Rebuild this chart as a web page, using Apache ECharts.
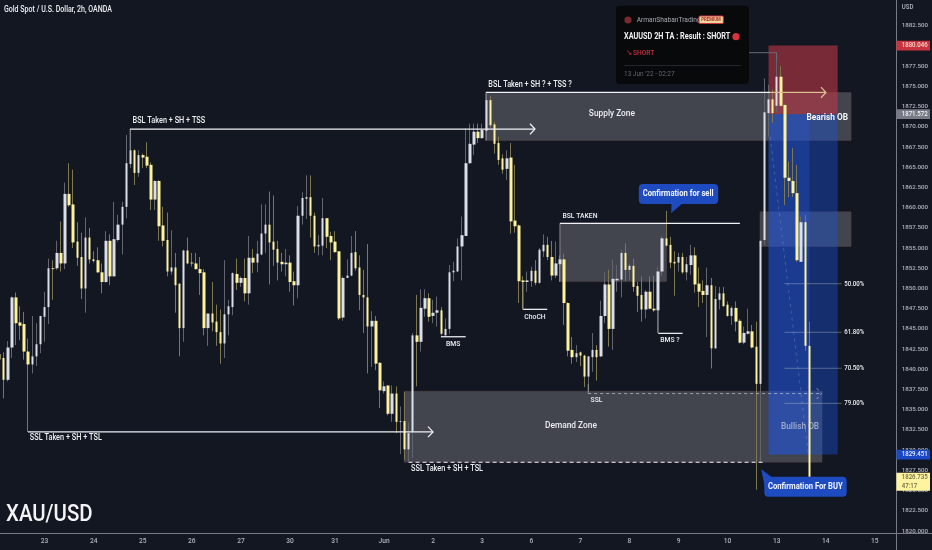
<!DOCTYPE html>
<html><head><meta charset="utf-8"><style>html,body{margin:0;padding:0;background:#131722}#c{width:932px;height:550px}</style>
<script src="https://cdn.jsdelivr.net/npm/echarts@6/dist/echarts.min.js"></script></head><body><div id="c"></div>
<script>
// Candles: [open, close, low, high]
const candlesMay23=[[1841.9,1841.2,1840.7,1842.6],[1841.4,1838.7,1836.4,1842.1],[1838.7,1842.7,1838.5,1843.5],[1842.7,1848.9,1841.4,1849],[1848.9,1845.7,1843,1849.5],[1845.8,1845.4,1843.6,1847.8],[1845.6,1842.2,1841.2,1847.1],[1842.2,1840.6,1832.25,1843.8],[1840.6,1841.6,1839.5,1846.6],[1841.6,1843.1,1840.4,1845.7],[1843.1,1846.6,1842,1846.6],[1846.5,1847.7,1843.4,1849.6],[1847.7,1852.5,1845.6,1853.7],[1852.5,1852.4,1848.6,1853.5],[1852.5,1854.4,1852.3,1855.9],[1854.4,1853.1,1852.1,1858.3],[1853.1,1861.7,1852.4,1863.1],[1861.7,1860.3,1860.1,1865.5],[1860.4,1855.7,1855,1864.7],[1855.8,1853.8,1852.8,1858.2],[1853.9,1850,1848.7,1856.9],[1850,1856.3,1847,1858.8],[1856.3,1853.6,1853.1,1857.5],[1853.6,1853.4,1853.2,1854.6],[1853.5,1852,1851.9,1855.1],[1852,1850.8,1849.4,1853.1],[1850.8,1855.9,1850.7,1857.1],[1855.9,1851.5,1850.4,1856.7],[1851.5,1856.1,1851.5,1860.7],[1856,1857.9,1855.8,1859.1]];
const candlesMay25=[[1857.9,1860.1,1854.2,1860.7],[1860.1,1865.5,1858.7,1869],[1865.4,1867.1,1864.9,1869.8],[1867.1,1864.3,1862.8,1867.2],[1864.3,1866.5,1863.8,1867.1],[1866.5,1866.2,1864.9,1866.7],[1866.3,1865.2,1864.9,1868.1],[1865.3,1861,1859.7,1865.6],[1861,1863.3,1859.7,1863.4],[1863.3,1857.7,1855.9,1863.4],[1857.8,1855.9,1855.2,1860.1],[1856,1852.1,1851.5,1859.4],[1852.1,1852.6,1851.7,1857.2],[1852.6,1850.4,1847,1854.4],[1850.6,1845.1,1841.6,1850.6],[1845.1,1854.7,1843.4,1854.8],[1854.7,1853.1,1853,1856.3],[1853.2,1853.1,1852.7,1854.4],[1853.1,1852.4,1852.3,1854.4],[1852.4,1851.9,1849.2,1853.9],[1852,1845.1,1844.2,1852.4],[1845.1,1846.9,1842.9,1846.9],[1846.9,1845.8,1844.7,1850.8],[1845.9,1844.6,1842.9,1848],[1844.6,1843.2,1840.7,1847.4],[1843.2,1846.8,1841.4,1853.5],[1846.8,1847.8,1844.2,1848.6]];
const candlesMay27=[[1847.7,1851.9,1846.7,1852],[1851.8,1850.7,1849.8,1853.7],[1850.7,1851.3,1850.2,1851.5],[1851.3,1849.4,1848.4,1853.7],[1849.4,1853.8,1848,1856.5],[1853.8,1853.2,1851.9,1854.9],[1853.2,1854.3,1852,1855.9],[1854.2,1856.8,1854.1,1860.4],[1856.8,1857.9,1854.4,1860.4],[1857.9,1855.7,1850.5,1862],[1855.8,1854.8,1852.8,1861.5],[1854.9,1853.2,1851,1855.9],[1853.3,1853,1852.1,1854.4],[1853,1853.2,1851.5,1854.9],[1853.2,1850.8,1849.6,1854.1],[1850.9,1850.4,1847.9,1852.1],[1850.4,1859,1848.8,1860.2],[1859,1861.2,1857.9,1861.9],[1861.1,1861.3,1858.6,1864],[1861.3,1859,1856.3,1864],[1859,1855.2,1854.4,1859.4],[1855.2,1855.4,1854.1,1856.6],[1855.3,1858.7,1854.1,1861.2],[1858.7,1856.4,1855,1858.7],[1856.5,1855.7,1853.5,1857],[1855.8,1854.5,1854.4,1857.1],[1854.6,1846.3,1846.1,1854.6],[1846.4,1851.3,1846,1851.5],[1851.3,1851.6,1851.3,1853.6],[1851.6,1854.4,1851.5,1856.5],[1854.5,1852.5,1852.2,1857.1],[1852.6,1849.2,1847.3,1854.1],[1849.2,1848.9,1844.5,1852.3],[1848.9,1845.3,1839.5,1855.5],[1845.3,1846,1840.3,1847.2],[1846,1840.7,1839.9,1846.6],[1840.8,1837.4,1835.2,1840.9],[1837.3,1837.9,1837,1838.5],[1838,1834.5,1834.3,1838],[1834.5,1837,1833.5,1838],[1837,1833.5,1832.1,1837.9],[1833.5,1833.6,1829.5,1835.4],[1833.6,1830.1,1828.8,1837.2],[1830.1,1832.1,1828.6,1833.4],[1832.3,1844.2,1829,1844.5]];
const candlesJun1=[[1844.2,1843.4,1837.9,1849.2],[1843.4,1847.6,1842.2,1849.9],[1847.5,1848.8,1846.5,1849.9],[1848.8,1846.5,1845.9,1849.4],[1846.6,1847,1845.7,1848.6],[1847,1847.3,1845.3,1849],[1847.3,1844.4,1844.2,1847.7],[1844.2,1845,1844.2,1846.3],[1845,1852,1844.4,1852.9],[1852,1852.2,1850.9,1853.3],[1852.1,1855.2,1852.1,1856.2],[1855.2,1856.6,1851,1858.9],[1856.5,1865.5,1856.5,1869.8],[1865.5,1867.9,1865.4,1870.4],[1867.8,1869.4,1866.5,1870.4],[1869.4,1868.6,1868,1870.4],[1868.6,1869.6,1868.5,1870.4],[1869.5,1873.3,1868.3,1874.1],[1873.3,1870.2,1869.9,1873.8],[1870.3,1867.9,1866.7,1870.6],[1868,1865.9,1865.3,1868.8],[1866.1,1864.7,1864.2,1866.6],[1864.8,1866.1,1863.4,1867.1],[1866.2,1858.3,1856.8,1868],[1858.4,1857.7,1856.9,1865.3],[1857.8,1850.9,1848.2,1857.9],[1851,1850.8,1847.4,1851.5],[1850.8,1851,1849.6,1852.1],[1850.9,1852.2,1850.2,1852.7],[1852.2,1850.7,1850.4,1853.5],[1850.7,1854.8,1850.6,1855],[1854.6,1855.4,1853.9,1856.7],[1855.4,1853.9,1853.5,1856.4],[1853.9,1851.6,1851,1855.9],[1851.6,1853.1,1851.3,1855.8],[1853,1853.6,1850.8,1854.1],[1853.6,1848.2,1845.5,1854.3]];
const candlesJun7=[[1848.2,1842.3,1841.6,1848.3],[1842.4,1841.5,1840.7,1844],[1841.5,1842,1840.9,1843],[1842.1,1841.7,1840.4,1842.2],[1841.7,1839.1,1837.8,1841.8],[1839.1,1841.6,1837.2,1841.6],[1841.5,1842.4,1839.7,1844.5],[1842.4,1841.5,1838.6,1843],[1841.6,1846.6,1841.5,1848.5],[1846.6,1850.5,1845.7,1852],[1850.5,1845,1842.8,1852.3],[1845,1851.2,1842.4,1853.6],[1851,1851.2,1849.6,1852.9],[1851.1,1854.4,1848.9,1854.8],[1854.4,1852.3,1850.9,1855.6],[1852.3,1852.8,1851,1853.1],[1852.8,1850.2,1849.6,1853.7],[1850.3,1849.1,1847.1,1850.8],[1849.2,1847.4,1845.9,1851.5],[1847.4,1849.6,1846.3,1849.8],[1849.6,1847.5,1847.4,1851.5],[1847.5,1847.3,1847.1,1851.6],[1847.3,1852.1,1844.5,1852.7],[1852.1,1856.2,1851.5,1856.5],[1856.2,1855.3,1855.2,1859.6],[1855.4,1853.2,1852.5,1856.4],[1853.3,1853.1,1849.1,1854.6],[1853.2,1853.9,1852.1,1854.4],[1853.9,1852,1851.8,1854.4],[1852,1853,1851,1853.9]];
const candlesJun9=[[1852.9,1854.1,1851.7,1855.4],[1854.1,1850.5,1849.5,1855.1],[1850.6,1849.6,1847.7,1852.6],[1849.7,1849.2,1848.2,1851],[1849.2,1850.4,1844,1852.6],[1850.4,1842.6,1840.1,1851.3],[1842.6,1848.7,1842.5,1850.3],[1848.6,1849.4,1847.4,1850.2],[1849.4,1847.8,1847.8,1850.2],[1848,1846.6,1846.5,1848.4],[1846.6,1847.6,1845.5,1847.8],[1847.6,1845.9,1844.7,1848.4],[1846,1843.3,1843.2,1846.2],[1843.3,1844.5,1843.1,1845.3],[1844.4,1844.7,1844.3,1847.5],[1844.7,1842.7,1842.6,1845.5],[1842.8,1838.2,1825.1,1845.9],[1838.2,1855.9,1828.5,1855.9],[1856,1871.8,1855.4,1876],[1871.7,1873.4,1868.7,1875.2],[1873.4,1871.7,1870.5,1874.6],[1872.6,1876.2,1871.8,1879.2],[1876.2,1872.6,1872.5,1877.5],[1872.7,1863.7,1860.3,1872.8],[1863.7,1863.3,1861.3,1865.7],[1863.3,1861.8,1861.3,1867.4],[1861.8,1853.5,1853.3,1865.3],[1853.3,1858.2,1853.3,1858.9],[1858.2,1842.9,1842.3,1859.1],[1842.9,1826.7,1826.7,1845.9]];
const candles=[...candlesMay23,...candlesMay25,...candlesMay27,...candlesJun1,...candlesJun7,...candlesJun9];

// Axes
const barSlots=220;
const dayTicks=[[11,'23'],[23,'24'],[35,'25'],[47,'26'],[59,'27'],[71,'30'],[82,'31'],[94,'Jun'],[106,'2'],[118,'3'],[130,'6'],[142,'7'],[154,'8'],[166,'9'],[178,'10'],[190,'13'],[202,'14'],[214,'15']];
const priceTicks=[1820,1822.5,1825,1827.5,1830,1832.5,1835,1837.5,1840,1842.5,1845,1847.5,1850,1852.5,1855,1857.5,1860,1862.5,1865,1867.5,1870,1872.5,1875,1877.5,1880,1882.5];
const priceMin=1819.75, priceMax=1885.69;

// Zones: [startBar, endBar, topPrice, bottomPrice]
const zoneDemand=[98.9,201.1,1837.3,1828.5];
const zoneSupply=[118.9,208.2,1874.25,1868.3];
const zoneMiddle=[185.9,208.2,1859.5,1855.2];
const zoneBslTaken=[137,163.1,1858.1,1850.85];
const zoneStop=[188,204.9,1880.05,1871.57];
const zoneTarget=[188,204.9,1871.57,1829.45];
const zoneTargetReached=[188,198,1871.57,1829.45];

// Lines: [bar0, price0, bar1, price1]
const lineBsl1=[31.9,1869.73,130.9,1869.73];
const stemBsl1=[31.9,1869.73,31.9,1867.13];
const lineBsl2=[118.9,1874.25,188.5,1874.25];
const lineBsl2Over=[188.5,1874.25,202.05,1874.25];
const stemBsl2=[118.9,1874.25,118.9,1868.3];
const lineSsl1=[6.94,1832.26,105.97,1832.26];
const lineSslDash=[100,1828.5,186.9,1828.5];
const lineBslTaken=[137,1858.06,181,1858.06];
const stemBslTaken=[137,1858.06,137,1850.85];
const lineSslThin=[143.9,1837,201,1837];
const stemSslThin=[143.9,1837,143.9,1838.2];
const lineBms=[107.9,1844.03,113.96,1844.03];
const lineChoch=[128,1847.42,133.9,1847.42];
const stemChoch=[128,1847.42,128,1850.8];
const lineBms2=[161.05,1844.45,167,1844.45];
const stemBms2=[161.05,1844.45,161.05,1847.3];
const fibLevels=[[1850.59,'50.00%'],[1844.58,'61.80%'],[1840.13,'70.50%'],[1835.79,'79.00%']];
const fibBars=[191.9,205.9,206.5];
const linePath=[188.4,1868.74,197.7,1829.65];
const lineCard=[183.2,1879.17,190,1879.17];
const stemCard=[190,1879.17,190,1878.27];

// Text notes: [bar, price, text]
const notesLong=[[32.5,1870.72,'BSL Taken + SH + TSS'],[119.5,1875.14,'BSL Taken + SH ? + TSS ?'],[7.4,1831.5,'SSL Taken + SH + TSL'],[100.6,1827.67,'SSL Taken + SH + TSL']];
const notesShort=[[137.6,1858.97,'BSL TAKEN'],[144.5,1836.2,'SSL']];
const notesZones=[[149.7,1871.59,'Supply Zone'],[139.7,1833.02,'Demand Zone']];
const notesMarks=[[110.9,1843.13,'BMS'],[130.9,1846.5,'ChoCH'],[163.9,1843.6,'BMS ?']];
const noteBearish=[197.3,1871.2,'Bearish OB'];
const noteBullish=[195.7,1832.9,'Bullish OB'];
// Callouts: body [bar0,bar1,top,bottom], tail points, text
const calloutSell={body:[156.3,175.7,1862.93,1860.45],tail:[[164.3,1860.6],[167.1,1860.6],[164.2,1859.3]],note:[165.9,1861.7,'Confirmation for sell']};
const calloutBuy={body:[186.97,207.1,1826.71,1824.23],tail:[[187.1,1825.5],[189,1826.6],[186.2,1827.63]],note:[197,1825.5,'Confirmation For BUY']};
// Price tags: [price, text, second line]
const tagStop=[1880.05,'1880.046'];
const tagEntry=[1871.57,'1871.572'];
const tagTarget=[1829.45,'1829.451'];
const tagLast=[1826.1,'1826.735','47:17'];

const FONT='Roboto,"Noto Sans",sans-serif';
const NARROW=0.85;
const C={bg:'#131722',white:'#dcdee8',yellow:'#fff29c',wickW:'#62646e',wickY:'#7d7850',axis:'#787b86',tick:'#b2b5be',text:'#eceef2',line:'#f0f2f6',blue:'#1e4cc0'};

const rows=a=>a.map((_,i)=>[i]);
function rect(api,z,style,r){const a=api.coord([z[0],z[2]]),b=api.coord([z[1],z[3]]);
  return {type:'rect',shape:{x:a[0],y:a[1],width:b[0]-a[0],height:b[1]-a[1],r:r||0},style};}
function poly(api,l,style){return {type:'polyline',shape:{points:[api.coord([l[0],l[1]]),api.coord([l[2],l[3]])]},style:Object.assign({fill:null},style)};}
function chevron(api,l,style){const t=api.coord([l[2],l[3]]);
  return {type:'polyline',shape:{points:[[t[0]-5,t[1]-5.3],t,[t[0]-5,t[1]+5.3]]},style:Object.assign({fill:null},style)};}
function txt(x,y,text,fill,align,size,weight,extra){
  return Object.assign({type:'text',x,y,scaleX:NARROW,scaleY:1,silent:true,style:{x:0,y:0,text,fill,align:align||'left',verticalAlign:'middle',font:(weight||500)+' '+size+'px '+FONT}},extra||{});}
function label(api,n,fill,align,size,weight){const p=api.coord([n[0],n[1]]);return txt(p[0],p[1],n[2],fill,align,size||8,weight);}
function tailShape(api,c,fill){return {type:'polygon',shape:{points:c.tail.map(t=>api.coord(t))},style:{fill}};}

const grey={fill:'rgba(255,255,255,0.2)',stroke:'rgba(110,70,70,0.55)',lineWidth:0.6};
const zoneList=[[zoneDemand,grey],[zoneSupply,grey],[zoneMiddle,grey],[zoneBslTaken,grey],
 [zoneStop,{fill:'rgba(190,55,70,0.6)'}],[zoneTarget,{fill:'rgba(26,83,224,0.4)'}],[zoneTargetReached,{fill:'rgba(40,90,225,0.3)'}]];
const solid={stroke:C.line,lineWidth:1.25};
const thinGrey={stroke:'rgba(200,203,212,0.65)',lineWidth:0.8};
const lineList=[[lineBsl1,solid,1],[stemBsl1,thinGrey],[lineBsl2,solid],[lineBsl2Over,{stroke:'#dcbf8e',lineWidth:1.25},1],[stemBsl2,thinGrey],[lineSsl1,solid,1],
 [lineSslDash,{stroke:C.line,lineWidth:1.2,lineDash:[4,3]}],[lineBslTaken,solid],[stemBslTaken,thinGrey],
 [lineSslThin,{stroke:'rgba(225,227,235,0.75)',lineWidth:0.8,lineDash:[3,3]},1],[stemSslThin,thinGrey],
 [lineBms,solid],[lineChoch,solid],[stemChoch,thinGrey],[lineBms2,solid],[stemBms2,thinGrey],
 [linePath,{stroke:'rgba(200,205,220,0.3)',lineWidth:0.8,lineDash:[3,4]}],[lineCard,{stroke:'#666a76',lineWidth:1}],[stemCard,{stroke:'#666a76',lineWidth:1}]];
const tagList=[[tagStop,'#c7333f','#f3d9c8'],[tagEntry,'#787b86','#f2f2f4'],[tagTarget,'#1a48c4','#e8ecfa'],[tagLast,'#fff39f','#6c6a40']];

const overlay=(data,z,renderItem)=>({type:'custom',xAxisIndex:1,yAxisIndex:0,silent:true,z,animation:false,clip:false,data:rows(data),renderItem});
const gtxt=(x,y,text,fill,size,weight,align,z)=>Object.assign(txt(x,y,text,fill,align,size,weight),{z:z||21});

const option={
 backgroundColor:C.bg,animation:false,
 grid:{left:-2.445,top:0,width:899.8,height:533,outerBoundsMode:'none',containLabel:false},
 xAxis:[{type:'category',data:Array.from({length:barSlots},(_,i)=>{const d=dayTicks.find(t=>t[0]===i);return d?d[1]:'';}),
   boundaryGap:true,axisLine:{show:false},axisTick:{show:false},splitLine:{show:false},
   axisLabel:{interval:0,hideOverlap:false,color:C.tick,fontSize:6.6,fontWeight:500,fontFamily:FONT,margin:5}},
  {type:'value',min:-0.5,max:barSlots-0.5,show:false}],
 yAxis:{type:'value',position:'right',min:priceMin,max:priceMax,axisLine:{show:false},axisTick:{show:false},splitLine:{show:false},
   axisLabel:{customValues:priceTicks,color:C.tick,fontSize:6.2,fontWeight:500,fontFamily:FONT,margin:4.3,formatter:v=>v.toFixed(3)}},
 series:[
  overlay(zoneList,1,(p,api)=>{const z=zoneList[p.dataIndex];return rect(api,z[0],z[1]);}),
  {type:'candlestick',name:'wicks',z:3,barWidth:1,data:candles,xAxisIndex:0,yAxisIndex:0,silent:true,animation:false,
    itemStyle:{color:'transparent',color0:'transparent',borderColor:C.wickW,borderColor0:C.wickY,borderWidth:1}},
  {type:'candlestick',name:'bodies',z:4,barWidth:3,data:candles.map(c=>[c[0],c[1],Math.min(c[0],c[1]),Math.max(c[0],c[1])]),xAxisIndex:0,yAxisIndex:0,silent:true,animation:false,
    itemStyle:{color:C.white,color0:C.yellow,borderColor:C.white,borderColor0:C.yellow,borderWidth:0}},
  overlay(lineList,5,(p,api)=>{const l=lineList[p.dataIndex];const ch=[poly(api,l[0],l[1])];if(l[2])ch.push(chevron(api,l[0],l[1]));return {type:'group',children:ch};}),
  overlay(fibLevels,5,(p,api)=>{const f=fibLevels[p.dataIndex];return {type:'group',children:[
     poly(api,[fibBars[0],f[0],fibBars[1],f[0]],{stroke:'rgba(190,195,205,0.5)',lineWidth:0.8}),
     label(api,[fibBars[2],f[0],f[1]],C.text,'left',7.2)]};}),
  overlay([calloutSell,calloutBuy],6,(p,api)=>{const c=[calloutSell,calloutBuy][p.dataIndex];return {type:'group',children:[
     rect(api,c.body,{fill:C.blue},4),tailShape(api,c,C.blue),label(api,c.note,'#f2f5ff','center',9,700)]};}),
  overlay(notesLong,7,(p,api)=>label(api,notesLong[p.dataIndex],C.text,'left',8.6)),
  overlay(notesShort,7,(p,api)=>label(api,notesShort[p.dataIndex],C.text,'left',8)),
  overlay(notesZones,7,(p,api)=>label(api,notesZones[p.dataIndex],C.text,'center',9.8)),
  overlay(notesMarks,7,(p,api)=>label(api,notesMarks[p.dataIndex],C.text,'center',8)),
  overlay([noteBearish],7,(p,api)=>label(api,noteBearish,'#f8f8fa','left',9.8,700)),
  overlay([noteBullish],7,(p,api)=>label(api,noteBullish,'rgba(225,228,235,0.62)','center',9.8)),
  overlay(tagList,9,(p,api)=>{const t=tagList[p.dataIndex],y=api.coord([0,t[0][0]])[1],two=t[0].length>2,h=two?18:9.6;
     const ch=[{type:'rect',shape:{x:896.4,y:y-h/2,width:33.6,height:h},style:{fill:t[1]}},txt(901.7,two?y-4:y,t[0][1],t[2],'left',7.2)];
     if(two)ch.push(txt(901.7,y+4.5,t[0][2],t[2],'left',7.2));
     return {type:'group',children:ch};})
 ],
 graphic:[
  {type:'line',z:8,silent:true,shape:{x1:896.5,y1:0,x2:896.5,y2:550},style:{stroke:C.axis,lineWidth:1}},
  {type:'line',z:8,silent:true,shape:{x1:0,y1:533.5,x2:932,y2:533.5},style:{stroke:C.axis,lineWidth:1}},
  gtxt(4,10,'Gold Spot / U.S. Dollar, 2h, OANDA',C.text,8.3,500,'left',8),
  gtxt(6,514.5,'XAU/USD','#f4f4f6',24,500,'left',8),
  gtxt(901.7,7,'USD',C.tick,7.2,500,'left',8),
  {type:'rect',z:20,silent:true,shape:{x:616,y:5.7,width:133,height:78.3,r:4},style:{fill:'#08090b'}},
  {type:'circle',z:21,silent:true,shape:{cx:628,cy:20,r:3.6},style:{fill:'#7a2a2e'}},
  gtxt(636.7,20,'ArmanShabanTrading','#a9abb2',7.8,400),
  {type:'rect',z:21,silent:true,shape:{x:699,y:16,width:24.3,height:7.5,r:1},style:{fill:'#e8d89a',stroke:'#c9333f',lineWidth:1}},
  gtxt(711,19.8,'PREMIUM','#b3262f',5,700,'center',22),
  gtxt(624,36.7,'XAUUSD 2H TA : Result : SHORT','#f0f0f2',8.6,700),
  {type:'circle',z:21,silent:true,shape:{cx:736,cy:36.7,r:3.6},style:{fill:'#d8323e'}},
  {type:'text',z:21,silent:true,style:{x:626,y:53.3,text:'↘',fill:'#c9333f',verticalAlign:'middle',font:'500 7.6px "DejaVu Sans"'}},
  gtxt(633,53.3,'SHORT','#c9333f',7.8,500),
  {type:'line',z:21,silent:true,shape:{x1:624,y1:65.5,x2:741,y2:65.5},style:{stroke:'#24262c',lineWidth:1}},
  gtxt(624,74,"13 Jun '22 - 02:27",'#62656e',7.6,400)
 ]
};
echarts.init(document.getElementById('c'),null,{renderer:'canvas'}).setOption(option);
</script></body></html>
